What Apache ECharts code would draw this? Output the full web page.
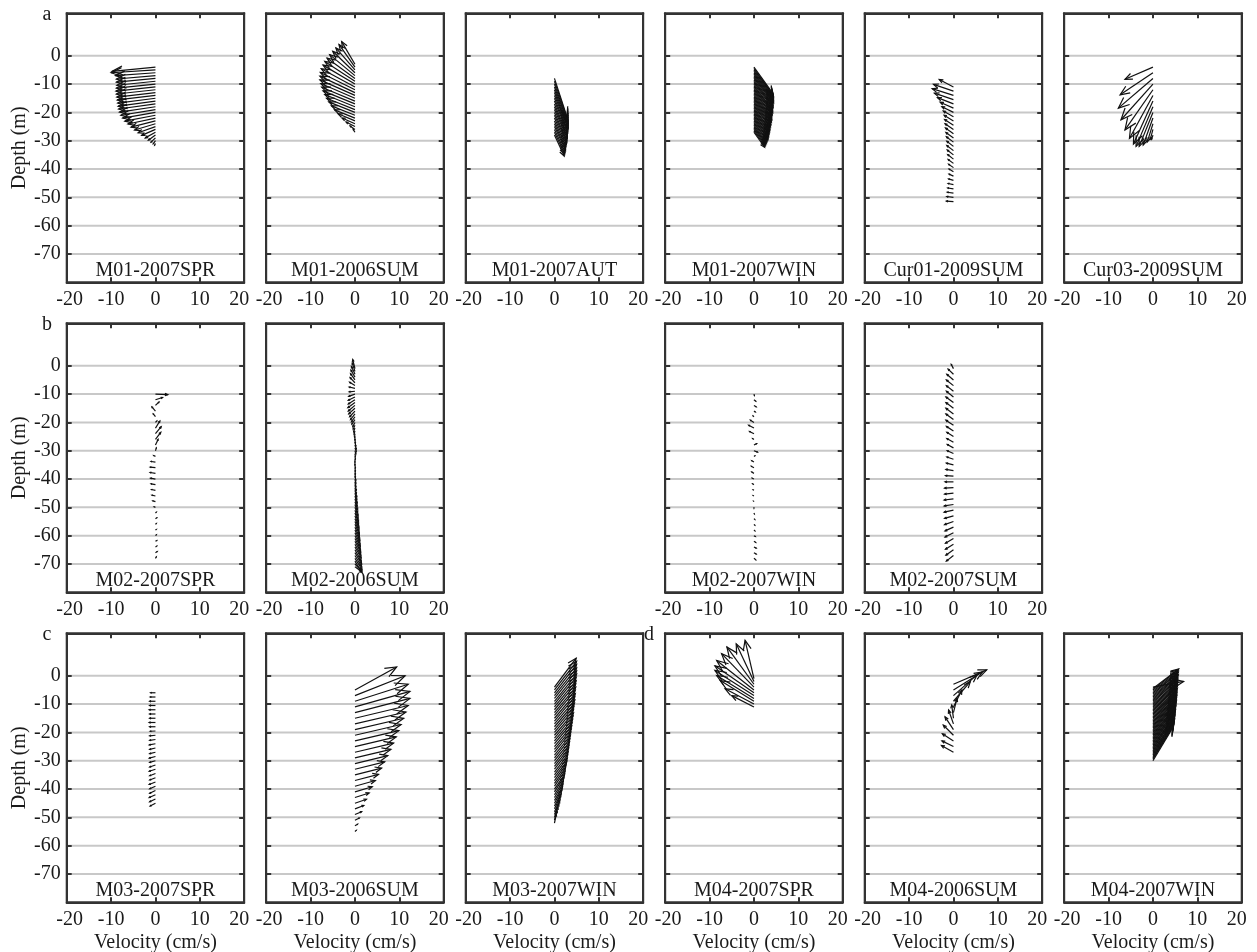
<!DOCTYPE html>
<html>
<head>
<meta charset="utf-8">
<title>Current profiles</title>
<script src="https://cdn.jsdelivr.net/npm/echarts@6/dist/echarts.min.js"></script>
<style>
  html, body { margin: 0; padding: 0; background: #fff; }
  #chart { width: 1257px; height: 952px; }
</style>
</head>
<body>
<div id="chart"></div>
<script>
  // depth gridlines / tick labels (m)
  const depthTicks = [0, -10, -20, -30, -40, -50, -60, -70];

  // each panel: bin depth (m), east u (cm/s), north v (cm/s)
  const m01Spr07Depth = [-4,-5,-6,-7,-8,-9,-10,-11,-12,-13,-14,-15,-16,-17,-18,-19,-20,-21,-22,-23,-24,-25,-26,-27,-28,-29,-30,-31];
  const m01Spr07U = [-9.8,-10.0,-9.0,-8.8,-8.8,-8.7,-8.8,-8.9,-8.8,-8.7,-8.6,-8.5,-8.4,-8.3,-8.1,-7.8,-7.4,-6.9,-6.2,-5.5,-4.7,-3.9,-3.1,-2.3,-1.6,-1.0,-0.5,-0.2];
  const m01Spr07V = [-1.5,-1.0,-1.0,-1.2,-1.3,-1.4,-1.4,-1.5,-1.5,-1.6,-1.6,-1.7,-1.8,-1.8,-1.9,-2.0,-2.0,-2.1,-2.1,-2.2,-2.2,-2.2,-2.1,-2.0,-1.8,-1.5,-1.1,-0.6];

  const m01Sum06Depth = [-3,-4,-5,-6,-7,-8,-9,-10,-11,-12,-13,-14,-15,-16,-17,-18,-19,-20,-21,-22,-23,-24,-25,-26,-27];
  const m01Sum06U = [-3.0,-3.6,-4.3,-5.0,-5.7,-6.3,-6.8,-7.2,-7.6,-7.8,-7.9,-7.9,-7.7,-7.5,-7.2,-6.8,-6.4,-5.9,-5.3,-4.6,-3.8,-2.9,-2.0,-1.1,-0.4];
  const m01Sum06V = [8.0,8.0,7.8,7.6,7.4,7.2,7.0,6.7,6.4,6.1,5.8,5.5,5.2,4.9,4.6,4.3,4.0,3.7,3.3,2.9,2.5,2.0,1.6,1.2,1.0];

  const m01Aut07Depth = [-8,-9,-10,-11,-12,-13,-14,-15,-16,-17,-18,-19,-20,-21,-22,-23,-24,-25,-26,-27,-28];
  const m01Aut07U = [2.8,2.9,2.9,3.0,3.0,3.0,3.1,3.0,3.0,2.9,2.9,2.9,2.8,2.8,2.7,2.6,2.5,2.5,2.4,2.3,2.2];
  const m01Aut07V = [-13.5,-13.2,-12.9,-12.6,-12.3,-12.0,-11.7,-11.4,-11.1,-10.8,-10.5,-10.2,-9.9,-9.6,-9.3,-9.0,-8.7,-8.4,-8.1,-7.7,-7.4];

  const m01Win07Depth = [-4,-4.5,-5,-5.5,-6,-6.5,-7,-7.5,-8,-8.5,-9,-9.5,-10,-10.5,-11,-11.5,-12,-12.5,-13,-13.5,-14,-14.5,-15,-15.5,-16,-16.5,-17,-17.5,-18,-18.5,-19,-19.5,-20,-20.5,-21,-21.5,-22,-22.5,-23,-23.5,-24,-24.5,-25,-25.5,-26,-26.5,-27];
  const m01Win07U = [4.3,4.3,4.4,4.4,4.4,4.4,4.4,4.4,4.4,4.3,4.3,4.3,4.3,4.2,4.2,4.2,4.2,4.1,4.1,4.0,4.0,4.0,4.0,3.9,3.9,3.8,3.8,3.7,3.7,3.6,3.6,3.5,3.5,3.4,3.4,3.3,3.3,3.2,3.2,3.1,3.0,2.9,2.8,2.7,2.6,2.5,2.4];
  const m01Win07V = [-9.4,-9.3,-9.2,-9.1,-9.0,-9.0,-8.9,-8.8,-8.7,-8.7,-8.6,-8.5,-8.4,-8.4,-8.3,-8.2,-8.1,-8.1,-8.0,-7.9,-7.8,-7.8,-7.7,-7.6,-7.5,-7.5,-7.4,-7.3,-7.2,-7.2,-7.1,-7.0,-6.9,-6.8,-6.7,-6.6,-6.5,-6.4,-6.3,-6.2,-6.0,-5.9,-5.8,-5.6,-5.5,-5.4,-5.3];

  const cur01Sum09Depth = [-11,-12.5,-14,-15.5,-17,-18.5,-20,-21.5,-23,-24.5,-26,-27.5,-29,-30.5,-32,-33.5,-35,-36.5,-38,-39.5,-41,-42.5,-44,-45.5,-47,-48.5,-50,-51.5];
  const cur01Sum09U = [-3.2,-4.5,-4.8,-4.3,-3.6,-3.0,-2.6,-2.3,-2.1,-2.0,-1.9,-1.8,-1.7,-1.6,-1.5,-1.5,-1.4,-1.3,-1.2,-1.1,-1.0,-1.0,-1.1,-1.2,-1.3,-1.4,-1.5,-1.6];
  const cur01Sum09V = [2.6,2.4,2.4,2.3,2.2,2.1,2.0,2.0,2.0,2.0,2.0,2.0,1.9,1.9,1.8,1.8,1.7,1.6,1.4,1.2,1.0,0.7,0.5,0.4,0.3,0.3,0.3,0.2];

  const cur03Sum09Depth = [-4,-6,-8,-10,-12,-14,-16,-18,-20,-22,-24,-26,-28];
  const cur03Sum09U = [-6.3,-7.4,-7.8,-7.2,-6.3,-5.3,-4.4,-3.8,-3.1,-2.2,-1.3,-0.6,-0.3];
  const cur03Sum09V = [-4.3,-7.8,-10.5,-12.6,-14.2,-15.2,-15.2,-14.0,-12.0,-9.5,-6.5,-3.5,-1.5];

  const m02Spr07Depth = [-10,-12,-14,-16,-18,-20,-22,-24,-26,-28,-30,-32,-34,-36,-38,-40,-42,-44,-46,-48,-50,-52,-54,-56,-58,-60,-62,-64,-66,-68];
  const m02Spr07U = [2.8,1.6,0.8,-0.8,-0.5,0.3,1.0,1.3,1.2,0.6,0.2,-0.4,-1.0,-1.2,-1.2,-1.1,-1.0,-0.9,-0.8,-0.6,-0.3,0.2,0.3,0.2,0.2,0.2,0.3,0.3,0.4,0.2];
  const m02Spr07V = [-0.2,0.8,1.2,1.5,1.0,0.5,2.5,2.5,2.5,2.0,1.0,0.3,0.2,0.2,0.3,0.3,0.3,0.3,0.3,0.3,0.2,0.3,0.3,0.3,0.2,0.3,0.3,0.3,0.4,0.5];

  const m02Sum06Depth = [-1,-2,-3,-4,-5,-6,-7,-8,-9,-10,-11,-12,-13,-14,-15,-16,-17,-18,-19,-20,-21,-22,-23,-24,-25,-26,-27,-28,-29,-30,-31,-32,-33,-34,-35,-36,-37,-38,-39,-40,-41,-42,-43,-44,-45,-46,-47,-48,-49,-50,-51,-52,-53,-54,-55,-56,-57,-58,-59,-60,-61,-62,-63,-64,-65,-66,-67,-68,-69,-70,-71];
  const m02Sum06U = [-0.5,-0.6,-0.8,-0.9,-1.0,-1.1,-1.2,-1.3,-1.3,-1.4,
    -1.5,-1.5,-1.6,-1.5,-1.4,-1.2,-1.0,-0.8,-0.7,-0.5,
    -0.4,-0.3,-0.2,-0.1,0.0,0.1,0.2,0.3,0.3,0.2,
    0.1,0.1,0.0,0.0,0.1,0.1,0.1,0.1,0.2,0.2,
    0.2,0.3,0.3,0.4,0.4,0.5,0.5,0.6,0.6,0.7,
    0.7,0.8,0.8,0.9,0.9,1.0,1.0,1.1,1.1,1.2,
    1.2,1.3,1.3,1.4,1.4,1.5,1.5,1.6,1.6,1.5,1.3];
  const m02Sum06V = [3.2,3.0,2.8,2.5,2.2,1.8,1.2,0.5,-0.2,-0.8,
    -1.2,-1.5,-1.8,-2.0,-2.0,-2.0,-2.0,-1.8,-1.6,-1.5,
    -1.4,-1.3,-1.2,-1.2,-1.2,-1.3,-1.4,-1.4,-1.3,-1.2,
    -1.0,-1.0,-1.0,-1.0,-1.1,-1.2,-1.3,-1.4,-1.5,-1.6,
    -1.8,-2.0,-2.2,-2.4,-2.5,-2.6,-2.7,-2.8,-2.9,-3.0,
    -3.1,-3.2,-3.3,-3.4,-3.4,-3.5,-3.5,-3.6,-3.6,-3.7,
    -3.7,-3.8,-3.8,-3.8,-3.9,-3.9,-3.9,-4.0,-4.0,-2.5,-1.5];

  const m02Win07Depth = [-10,-12,-14,-16,-18,-20,-22,-24,-26,-28,-30,-32,-34,-36,-38,-40,-42,-44,-46,-48,-50,-52,-54,-56,-58,-60,-62,-64,-66,-68];
  const m02Win07U = [0.1,0.4,0.5,0.3,-0.2,-0.8,-1.2,-1.0,-0.3,0.6,0.8,0.2,-0.5,-0.6,-0.5,-0.4,-0.3,-0.2,-0.2,-0.1,0.0,0.1,0.2,0.2,0.2,0.3,0.4,0.5,0.5,0.4];
  const m02Win07V = [-0.5,-0.5,-0.5,-0.3,0.3,0.8,1.0,0.8,0.3,0.5,-0.5,0.2,0.5,0.5,0.5,0.3,0.3,0.2,0.2,0.2,-0.3,-0.3,-0.3,-0.3,-0.3,-0.3,-0.4,-0.4,-0.5,-0.5];

  const m02Sum07Depth = [-1,-3,-5,-7,-9,-11,-13,-15,-17,-19,-21,-23,-25,-27,-29,-31,-33,-35,-37,-39,-41,-43,-45,-47,-49,-51,-53,-55,-57,-59,-61,-63,-65,-67];
  const m02Sum07U = [-0.5,-1.2,-1.5,-1.6,-1.6,-1.6,-1.7,-1.7,-1.7,-1.7,-1.7,-1.6,-1.5,-1.5,-1.4,-1.4,-1.5,-1.6,-1.7,-1.8,-1.9,-2.0,-2.0,-2.1,-2.1,-2.1,-2.0,-2.0,-1.9,-1.9,-1.8,-1.8,-1.7,-1.6];
  const m02Sum07V = [1.5,1.8,2.0,2.0,2.0,2.0,2.0,2.0,2.0,2.0,1.8,1.6,1.5,1.3,1.2,1.0,0.8,0.6,0.4,0.2,0.0,-0.2,-0.3,-0.4,-0.5,-0.7,-0.9,-1.1,-1.3,-1.5,-1.7,-1.8,-1.9,-2.0];

  const m03Spr07Depth = [-6,-7.5,-9,-10.5,-12,-13.5,-15,-16.5,-18,-19.5,-21,-22.5,-24,-25.5,-27,-28.5,-30,-31.5,-33,-34.5,-36,-37.5,-39,-40.5,-42,-43.5,-45];
  const m03Spr07U = [-1.1,-1.2,-1.3,-1.3,-1.4,-1.3,-1.3,-1.4,-1.3,-1.2,-1.3,-1.3,-1.4,-1.3,-1.3,-1.4,-1.3,-1.3,-1.4,-1.3,-1.3,-1.4,-1.3,-1.3,-1.4,-1.3,-1.2];
  const m03Spr07V = [0.0,0.0,0.0,0.0,0.0,0.0,0.0,0.0,0.0,-0.1,-0.2,-0.3,-0.4,-0.5,-0.5,-0.6,-0.6,-0.7,-0.7,-0.8,-0.8,-0.9,-0.9,-1.0,-1.0,-1.0,-1.0];

  const m03Sum06Depth = [-5,-7,-9,-11,-13,-15,-17,-19,-21,-23,-25,-27,-29,-31,-33,-35,-37,-39,-41,-43,-45,-47,-49,-51,-53,-55];
  const m03Sum06U = [9.4,11.3,12.0,12.4,12.4,12.0,11.5,11.0,10.4,9.9,9.3,8.7,8.1,7.4,6.7,6.0,5.3,4.6,3.9,3.2,2.6,2.0,1.5,1.0,0.6,0.3];
  const m03Sum06V = [8.1,7.0,6.0,5.5,5.0,4.5,4.2,4.0,3.8,3.6,3.4,3.2,3.0,2.8,2.6,2.4,2.2,2.0,1.8,1.6,1.4,1.2,1.0,0.8,0.6,0.4];

  const m03Win07Depth = [-4,-5,-6,-7,-8,-9,-10,-11,-12,-13,-14,-15,-16,-17,-18,-19,-20,-21,-22,-23,-24,-25,-26,-27,-28,-29,-30,-31,-32,-33,-34,-35,-36,-37,-38,-39,-40,-41,-42,-43,-44,-45,-46,-47,-48,-49,-50,-51,-52];
  const m03Win07U = [4.9,5.0,5.0,5.0,5.0,5.0,4.9,4.9,4.8,4.8,4.7,4.7,4.6,4.6,4.5,4.4,4.3,4.3,4.2,4.1,4.0,3.9,3.8,3.7,3.6,3.5,3.4,3.3,3.2,3.1,3.0,2.9,2.8,2.6,2.5,2.4,2.3,2.1,2.0,1.9,1.8,1.6,1.5,1.3,1.2,1.0,0.8,0.6,0.4];
  const m03Win07V = [10.2,10.1,10.0,9.8,9.7,9.6,9.4,9.3,9.1,9.0,8.9,8.7,8.6,8.5,8.3,8.2,8.0,7.9,7.8,7.6,7.5,7.3,7.2,7.1,6.9,6.8,6.6,6.5,6.4,6.2,6.1,5.9,5.8,5.6,5.5,5.4,5.2,5.1,4.9,4.8,4.6,4.5,4.3,4.2,4.0,3.8,3.6,3.3,3.0];

  const m04Spr07Depth = [-1,-2,-3,-4,-5,-6,-7,-8,-9,-10,-11];
  const m04Spr07U = [-2.0,-4.0,-6.1,-7.3,-8.4,-8.8,-8.8,-8.4,-7.6,-6.5,-5.0];
  const m04Spr07V = [13.5,13.3,13.2,11.8,10.4,9.5,8.9,8.1,7.3,5.4,4.0];

  const m04Sum06Depth = [-3,-5,-7,-9,-11,-13,-15,-17,-19,-21,-23,-25,-27];
  const m04Sum06U = [7.5,6.5,5.3,3.8,1.9,0.8,-0.4,-1.1,-1.9,-2.3,-2.5,-2.6,-2.7];
  const m04Sum06V = [5.1,6.3,7.3,6.9,6.0,5.0,4.7,4.9,4.5,3.6,2.5,2.0,2.4];

  const m04Win07Depth = [-4,-4.5,-5,-5.5,-6,-6.5,-7,-7.5,-8,-8.5,-9,-9.5,-10,-10.5,-11,-11.5,-12,-12.5,-13,-13.5,-14,-14.5,-15,-15.5,-16,-16.5,-17,-17.5,-18,-18.5,-19,-19.5,-20,-20.5,-21,-21.5,-22,-22.5,-23,-23.5,-24,-24.5,-25,-25.5,-26,-26.5,-27,-27.5,-28,-28.5,-29,-29.5,-30];
  const m04Win07U = [6.9,5.8,5.7,5.7,5.7,5.6,5.7,5.6,5.6,5.6,5.6,5.5,5.6,5.5,5.5,5.5,5.5,5.4,5.5,5.4,5.4,5.4,5.4,5.3,5.4,5.3,5.3,5.3,5.2,5.3,5.2,5.2,5.1,5.2,5.1,5.1,5.0,5.1,5.0,5.0,4.9,5.0,4.9,4.9,4.8,4.9,4.8,4.8,4.7,4.7,4.7,4.6,4.6];
  const m04Win07V = [2.0,6.9,7.1,7.1,7.2,7.4,7.4,7.5,7.7,7.7,7.8,8.0,8.0,8.1,8.2,8.3,8.4,8.6,8.6,8.7,8.8,8.9,9.0,9.1,9.2,9.3,9.4,9.5,9.6,9.7,9.8,9.9,10.0,10.1,10.2,10.3,10.4,10.5,10.6,10.7,10.8,10.9,11.0,11.1,11.2,11.3,11.4,11.5,11.6,11.7,11.8,11.9,12.0];

  const panels = [
    { name: 'M01-2007SPR', row: 0, col: 0, depth: m01Spr07Depth, u: m01Spr07U, v: m01Spr07V },
    { name: 'M01-2006SUM', row: 0, col: 1, depth: m01Sum06Depth, u: m01Sum06U, v: m01Sum06V },
    { name: 'M01-2007AUT', row: 0, col: 2, depth: m01Aut07Depth, u: m01Aut07U, v: m01Aut07V },
    { name: 'M01-2007WIN', row: 0, col: 3, depth: m01Win07Depth, u: m01Win07U, v: m01Win07V },
    { name: 'Cur01-2009SUM', row: 0, col: 4, depth: cur01Sum09Depth, u: cur01Sum09U, v: cur01Sum09V },
    { name: 'Cur03-2009SUM', row: 0, col: 5, depth: cur03Sum09Depth, u: cur03Sum09U, v: cur03Sum09V },
    { name: 'M02-2007SPR', row: 1, col: 0, depth: m02Spr07Depth, u: m02Spr07U, v: m02Spr07V },
    { name: 'M02-2006SUM', row: 1, col: 1, depth: m02Sum06Depth, u: m02Sum06U, v: m02Sum06V },
    { name: 'M02-2007WIN', row: 1, col: 3, depth: m02Win07Depth, u: m02Win07U, v: m02Win07V },
    { name: 'M02-2007SUM', row: 1, col: 4, depth: m02Sum07Depth, u: m02Sum07U, v: m02Sum07V },
    { name: 'M03-2007SPR', row: 2, col: 0, depth: m03Spr07Depth, u: m03Spr07U, v: m03Spr07V },
    { name: 'M03-2006SUM', row: 2, col: 1, depth: m03Sum06Depth, u: m03Sum06U, v: m03Sum06V },
    { name: 'M03-2007WIN', row: 2, col: 2, depth: m03Win07Depth, u: m03Win07U, v: m03Win07V },
    { name: 'M04-2007SPR', row: 2, col: 3, depth: m04Spr07Depth, u: m04Spr07U, v: m04Spr07V },
    { name: 'M04-2006SUM', row: 2, col: 4, depth: m04Sum06Depth, u: m04Sum06U, v: m04Sum06V },
    { name: 'M04-2007WIN', row: 2, col: 5, depth: m04Win07Depth, u: m04Win07U, v: m04Win07V }
  ];

  const groupLetters = [
    { text: 'a', x: 47, y: 15 },
    { text: 'b', x: 47, y: 325 },
    { text: 'c', x: 47, y: 635 },
    { text: 'd', x: 649, y: 635 }
  ];

  // layout (px)
  const LEFT0 = 66.7, COL_STEP = 199.5, W = 177.5;
  const TOP0 = 13.3, ROW_STEP = 310, H = 269;
  const FONT = 'Liberation Serif';
  const FS = 20;
  const INK = '#1a1a1a', FRAME = '#333';

  // quiver-style arrow from (0, depth) to (u, depth + v)
  function renderArrow(params, api) {
    const d = api.value(0), u = api.value(1), v = api.value(2);
    const p0 = api.coord([0, d]);
    const p1 = api.coord([u, d + v]);
    const dx = p1[0] - p0[0], dy = p1[1] - p0[1];
    const len = Math.sqrt(dx * dx + dy * dy);
    if (len < 0.5) return null;
    const ux = dx / len, uy = dy / len;
    const head = len * 0.24, half = head * 0.42;
    const bx = p1[0] - ux * head, by = p1[1] - uy * head;
    return {
      type: 'group',
      children: [
        { type: 'line', shape: { x1: p0[0], y1: p0[1], x2: p1[0], y2: p1[1] },
          style: { stroke: '#111', lineWidth: 1.2 } },
        { type: 'polyline', shape: { points: [[bx - uy * half, by + ux * half], [p1[0], p1[1]], [bx + uy * half, by - ux * half]] },
          style: { stroke: '#111', fill: null, lineWidth: 1.2 } }
      ]
    };
  }

  function renderGridLine(params, api) {
    const t = api.value(0);
    const a = api.coord([-20, t]);
    const b = api.coord([20, t]);
    return { type: 'line', shape: { x1: a[0], y1: a[1], x2: b[0], y2: b[1] },
      style: { stroke: '#c8c8c8', lineWidth: 2 } };
  }

  // end labels sit a little inside the panel, as in the original figure
  const labelFont = { fontFamily: FONT, fontSize: FS, color: INK };
  function velLabel(val) {
    if (val === 20) return '{mx|' + val + '}';
    if (val === -20) return '{mn|' + val + '}';
    return '{n|' + val + '}';
  }

  const grid = [], xAxis = [], yAxis = [], series = [], graphic = [];
  const tickStyle = { inside: true, length: 5, lineStyle: { color: FRAME, width: 2 } };
  const lineStyle = { show: true, onZero: false, lineStyle: { color: FRAME, width: 2 } };

  panels.forEach(function (p, i) {
    const left = LEFT0 + p.col * COL_STEP;
    const top = TOP0 + p.row * ROW_STEP;
    grid.push({ left: left, top: top, width: W, height: H, containLabel: false, outerBoundsMode: 'none',
      show: true, borderColor: FRAME, borderWidth: 2, backgroundColor: '#fff' });

    xAxis.push({
      gridIndex: i, type: 'value', position: 'bottom', min: -20, max: 20, interval: 10, z: 5,
      axisLine: lineStyle, axisTick: tickStyle, splitLine: { show: false },
      axisLabel: Object.assign({ margin: 7, showMinLabel: true, showMaxLabel: true, hideOverlap: false,
        formatter: velLabel,
        rich: {
          n: labelFont,
          mx: Object.assign({ padding: [0, 10, 0, 0] }, labelFont),
          mn: Object.assign({ padding: [0, 0, 0, 6] }, labelFont)
        } }, labelFont),
      name: p.row === 2 ? 'Velocity (cm/s)' : '', nameLocation: 'middle', nameGap: 30,
      nameTextStyle: labelFont
    });
    xAxis.push({
      gridIndex: i, type: 'value', position: 'top', min: -20, max: 20, interval: 10, z: 5,
      axisLine: lineStyle, axisTick: tickStyle, splitLine: { show: false }, axisLabel: { show: false }
    });
    yAxis.push({
      gridIndex: i, type: 'value', position: 'left', min: -80, max: 15, z: 5,
      axisLine: lineStyle, splitLine: { show: false },
      axisTick: Object.assign({ customValues: depthTicks }, tickStyle),
      axisLabel: Object.assign({ show: p.col === 0, customValues: depthTicks, margin: 6, hideOverlap: false }, labelFont),
      name: p.col === 0 ? 'Depth (m)' : '', nameLocation: 'middle', nameGap: 37, nameRotate: 90,
      nameTextStyle: labelFont
    });
    yAxis.push({
      gridIndex: i, type: 'value', position: 'right', min: -80, max: 15, z: 5,
      axisLine: lineStyle, splitLine: { show: false },
      axisTick: Object.assign({ customValues: depthTicks }, tickStyle),
      axisLabel: { show: false }
    });

    series.push({
      type: 'custom', xAxisIndex: 2 * i, yAxisIndex: 2 * i, silent: true, z: 1, clip: true,
      data: depthTicks.map(function (t) { return [t]; }),
      encode: { y: 0 },
      renderItem: renderGridLine
    });
    series.push({
      type: 'custom', name: p.name, xAxisIndex: 2 * i, yAxisIndex: 2 * i, silent: true, z: 3, clip: false,
      data: p.depth.map(function (d, k) { return [d, p.u[k], p.v[k]]; }),
      encode: { y: 0, x: 1 },
      renderItem: renderArrow
    });

    graphic.push({
      type: 'text', x: left + W / 2, y: top + H - 12, silent: true, z: 10,
      style: { text: p.name, fontFamily: FONT, fontSize: FS, fill: INK, align: 'center', verticalAlign: 'middle' }
    });
  });

  groupLetters.forEach(function (g) {
    graphic.push({
      type: 'text', x: g.x, y: g.y, silent: true,
      style: { text: g.text, fontFamily: FONT, fontSize: FS, fill: INK, align: 'center', verticalAlign: 'middle' }
    });
  });

  const chart = echarts.init(document.getElementById('chart'), null, { renderer: 'canvas' });
  chart.setOption({
    backgroundColor: '#fff',
    animation: false,
    grid: grid,
    xAxis: xAxis,
    yAxis: yAxis,
    series: series,
    graphic: graphic
  });
</script>
</body>
</html>
